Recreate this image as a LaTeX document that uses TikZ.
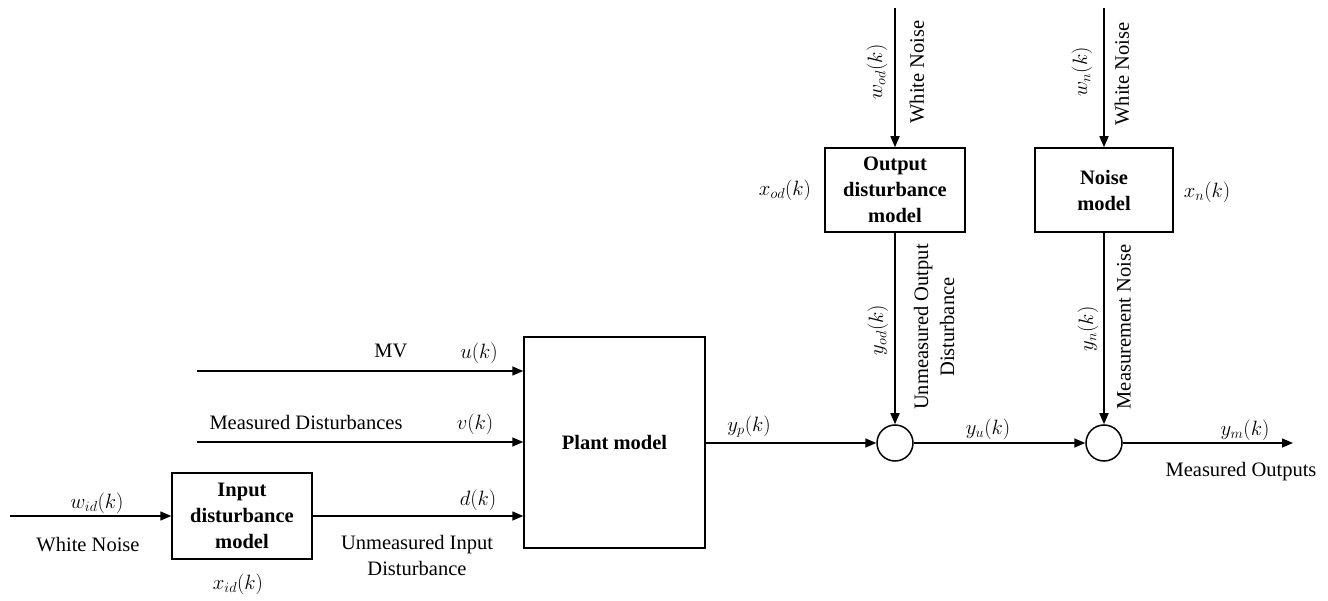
\documentclass[tikz,border=0pt]{standalone}
\usepackage{fontspec}
\setmainfont{Liberation Serif}
\usetikzlibrary{arrows.meta}
\begin{document}
\begin{tikzpicture}[x=1pt,y=-1pt,
  every node/.style={font=\fontsize{20.5}{26}\selectfont, inner sep=0pt},
  block/.style={draw, line width=1.5pt, align=center, font=\fontsize{20.5}{26}\selectfont\bfseries},
  sumnode/.style={draw, circle, line width=1.5pt, minimum size=36pt},
  sig/.style={line width=1.5pt, -{Triangle[length=11pt,width=9pt]}},
  lbl/.style={align=center}]
\useasboundingbox (0,0) rectangle (1328,601);
% blocks
\node[block, minimum width=140pt, minimum height=86pt] (idm) at (242,516) {Input\\disturbance\\model};
\node[block, minimum width=181pt, minimum height=211pt] (plant) at (614.5,442.5) {Plant model};
\node[block, minimum width=140pt, minimum height=84pt] (odm) at (895,190) {Output\\disturbance\\model};
\node[block, minimum width=138pt, minimum height=84pt] (nm) at (1104,190) {Noise\\model};
\node[sumnode] (s1) at (895,443) {};
\node[sumnode] (s2) at (1104,443) {};
% free ends
\coordinate (win) at (10,516);
\coordinate (uin) at (197,371);
\coordinate (vin) at (197,442);
\coordinate (wod) at (895,8);
\coordinate (wn) at (1104,8);
\coordinate (out) at (1293,443);
% connectors
\draw[sig] (win) -- (idm.west);
\draw[sig] (uin) -- (uin -| plant.west);
\draw[sig] (vin) -- (vin -| plant.west);
\draw[sig] (idm.east) -- (idm.east -| plant.west);
\draw[sig] (plant.east |- s1) -- (s1.west);
\draw[sig] (s1.east) -- (s2.west);
\draw[sig] (s2.east) -- (out);
\draw[sig] (wod) -- (odm.north);
\draw[sig] (wn) -- (nm.north);
\draw[sig] (odm.south) -- (s1.north);
\draw[sig] (nm.south) -- (s2.north);
% labels
\node (l1) at (97,503) {$w_{id}(k)$};
\node (l2) at (88,545) {White Noise};
\node (l3) at (238,584) {$x_{id}(k)$};
\node (l4) at (391,351) {MV};
\node (l5) at (479,353) {$u(k)$};
\node (l6) at (306,422) {Measured Disturbances};
\node (l7) at (475,424) {$v(k)$};
\node (l8) at (478,500) {$d(k)$};
\node[lbl] (l9) at (417,555) {Unmeasured Input\\Disturbance};
\node (l10) at (749,427) {$y_p(k)$};
\node (l11) at (988,429) {$y_u(k)$};
\node (l12) at (1245,430) {$y_m(k)$};
\node (l13) at (1241,472) {Measured Outputs};
\node (l14) at (785,190) {$x_{od}(k)$};
\node (l15) at (1207,192) {$x_n(k)$};
\node[rotate=90] (l16) at (877,72) {$w_{od}(k)$};
\node[rotate=90] (l17) at (917,72) {White Noise};
\node[rotate=90] (l18) at (1082,72) {$w_n(k)$};
\node[rotate=90] (l19) at (1122,74) {White Noise};
\node[rotate=90] (l20) at (878,330) {$y_{od}(k)$};
\node[rotate=90, lbl] (l21) at (934,327) {Unmeasured Output\\Disturbance};
\node[rotate=90] (l22) at (1088,329) {$y_n(k)$};
\node[rotate=90] (l23) at (1124,327) {Measurement Noise};
\end{tikzpicture}
\end{document}
